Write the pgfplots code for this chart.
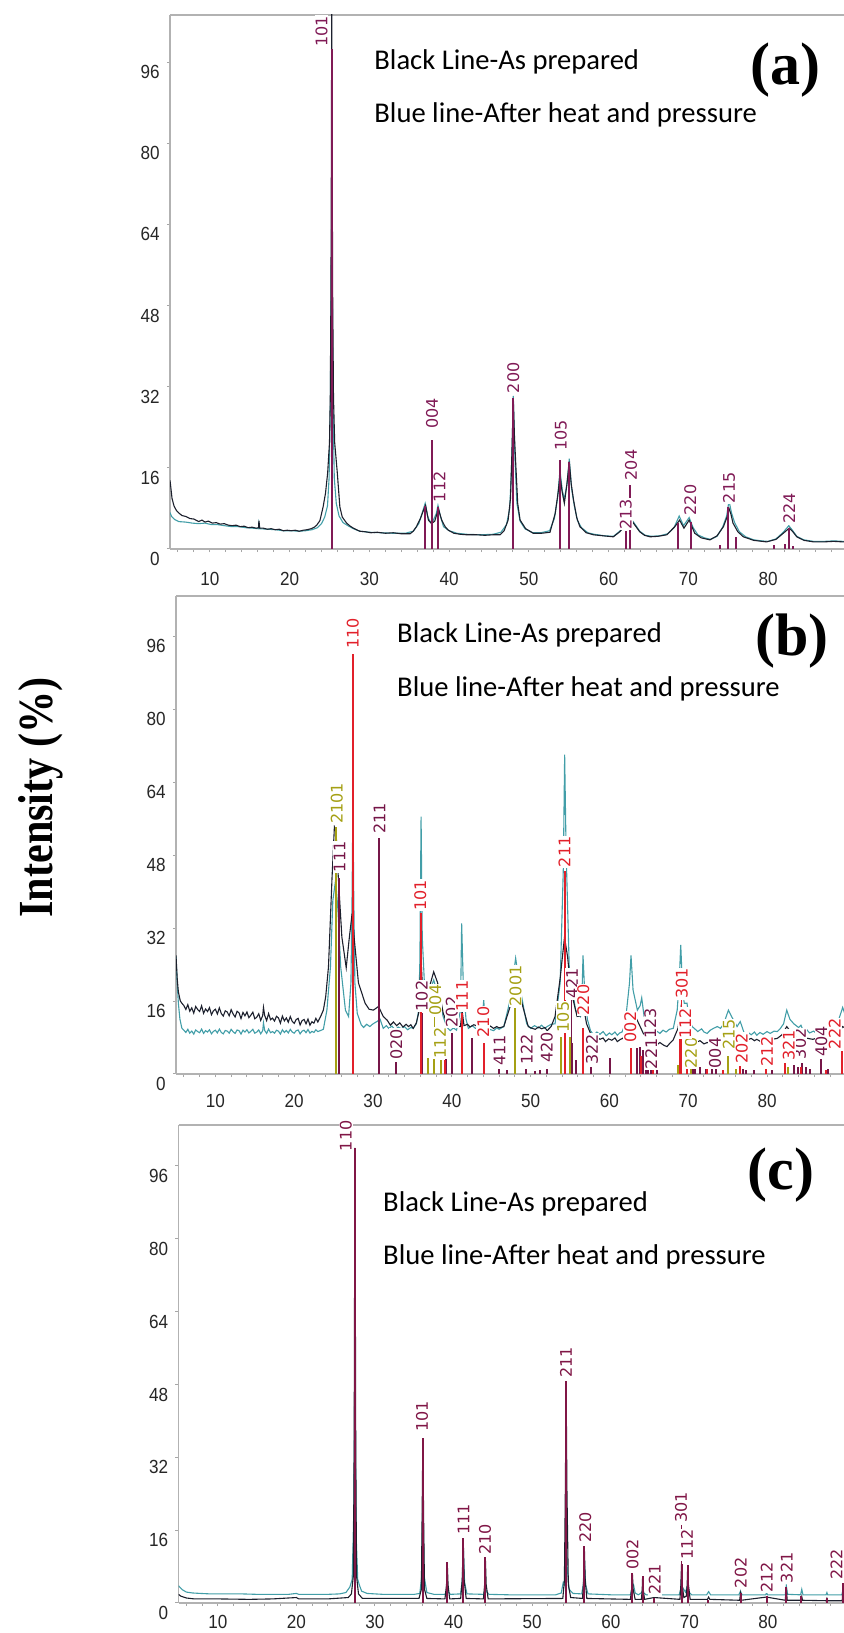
\documentclass[border=0pt]{standalone}
\usepackage{fontspec}
\usepackage{pgfplots}
\pgfplotsset{compat=1.18}
\newfontfamily\tickfont[FakeStretch=0.9]{Liberation Sans}
\newfontfamily\hklfont{DejaVu Sans}
\newfontfamily\calib{Carlito}
\newfontfamily\timesn[FakeStretch=0.86]{Liberation Serif}
\newfontfamily\timesw{Liberation Serif}

\definecolor{bluec}{RGB}{66,158,168}
\definecolor{blackc}{RGB}{28,32,45}
\definecolor{apurple}{RGB}{128,26,86}
\definecolor{bpurple}{RGB}{118,22,72}
\definecolor{bred}{RGB}{226,32,42}
\definecolor{bolive}{RGB}{165,160,20}
\definecolor{cpurple}{RGB}{128,22,70}

\pgfplotsset{
  panel/.style={scale only axis, anchor=north west,
    xmin=5, xmax=92, ymin=0,
    axis y line*=left,
    axis line style={draw=gray!60, line width=0.6pt},
    xtick={10,20,...,80}, minor xtick={6,8,...,90}, ytick={0,16,...,96},
    xtick pos=left, tick align=outside,
    major tick length=1.6pt, minor tick length=1.6pt,
    every tick/.style={gray!70, line width=0.5pt},
    ticklabel style={font=\tickfont\fontsize{9.5}{10}\selectfont, text=black!85},
    /pgf/number format/assume math mode=true,
    xticklabel style={yshift=-5pt},
    yticklabel style={yshift=-5pt},
  },
  curve/.style={#1, line width=0.55pt, mark=none},
  stick/.style={ycomb, draw=#1, line width=1pt, mark=none},
  leader/.style={ycomb, draw=#1, line width=0.5pt, mark=none},
  hkl/.style={draw=none, mark=none, nodes near coords, point meta=explicit symbolic,
    every node near coord/.style={rotate=90, anchor=west,
      font=\hklfont\fontsize{8}{9}\selectfont, inner sep=0.4pt, fill=white, text=#1}},
}

\begin{document}
\begin{tikzpicture}
\useasboundingbox (0,0) rectangle (421.5pt,816.5pt);

% ---------------- (a) ----------------
\begin{axis}[panel, at={(85pt,809pt)}, width=346.9pt, height=267pt, ymax=105.3,
  xticklabel style={yshift=-1.5pt}]
\addplot[curve=bluec] table {
x y
5.0 7.2
5.2 6.4
5.6 5.8
6.1 5.4
7.0 5.3
7.8 5.1
8.6 5.0
9.4 5.1
10.2 4.8
11.0 4.8
11.8 4.6
12.8 4.4
13.6 4.4
14.5 4.2
15.4 4.1
16.1 4.0
16.15 5.0
16.25 4.0
17.2 3.9
18.2 3.8
19.2 3.6
20.2 3.6
21.2 3.5
22.0 3.6
22.8 3.8
23.5 4.2
24.0 5.0
24.4 6.3
24.75 8.5
24.95 14
25.1 28
25.2 50
25.28 68
25.36 50
25.45 28
25.6 14
25.85 9
26.2 6.5
26.7 5.2
27.3 4.6
28.0 4.0
28.8 3.5
30.0 3.3
31.5 3.2
33.0 3.1
34.5 3.1
35.5 3.5
36.2 5.0
36.7 7.5
37.0 9.0
37.3 6.5
37.6 5.4
38.0 5.6
38.4 7.0
38.6 8.6
38.9 6.5
39.3 4.4
40.0 3.6
41.0 3.1
42.2 2.9
44.0 2.8
45.5 2.9
46.5 3.3
47.2 4.8
47.6 8
47.85 17
48.05 30.2
48.25 18
48.5 9
48.9 5.5
49.5 4.0
50.5 3.2
51.5 3.2
52.6 3.6
53.2 6.0
53.6 10
53.9 15.5
54.2 11.5
54.45 9.8
54.8 13
55.07 17.8
55.35 12
55.7 8.5
56.1 5.6
56.6 4.2
57.4 3.2
58.2 2.9
59.5 2.6
60.6 2.5
61.4 3.5
62.1 4.8
62.7 6.2
63.3 4.9
63.9 3.5
64.6 2.7
65.4 2.5
66.4 2.6
67.4 3.0
68.2 4.2
68.85 6.5
69.4 4.6
70.1 6.2
70.6 4.2
71.2 2.8
72.0 2.2
72.8 1.9
73.6 2.5
74.3 4.3
74.8 6.5
75.1 9.5
75.4 7.2
75.8 5.2
76.4 3.4
77.2 2.4
78.2 1.8
79.2 1.6
80.0 1.5
81.0 2.0
81.9 3.3
82.6 4.6
83.0 3.8
83.6 2.5
84.5 1.8
85.7 1.5
87.0 1.5
88.3 1.6
89.4 1.5
90.5 1.5
};
\addplot[curve=blackc] table {
x y
5.0 13.5
5.1 12.2
5.25 10.0
5.5 8.5
5.8 7.6
6.1 7.1
6.5 6.6
7.0 6.4
7.5 6.0
8.0 5.9
8.6 5.4
9.0 5.7
9.4 5.3
9.8 5.5
10.3 5.1
10.8 5.2
11.3 4.9
11.8 5.0
12.3 4.7
12.8 4.6
13.3 4.7
13.8 4.4
14.3 4.5
14.8 4.2
15.3 4.3
15.8 4.1
16.1 4.2
16.15 5.6
16.25 4.1
16.7 4.1
17.2 3.9
17.7 4.0
18.2 3.8
18.7 3.9
19.2 3.6
19.7 3.7
20.2 3.6
20.7 3.7
21.2 3.5
21.7 3.7
22.2 3.8
22.7 4.0
23.1 4.3
23.4 4.7
23.8 5.6
24.2 8.3
24.5 11.0
24.77 15
25.0 21
25.1 30
25.18 50
25.24 80
25.28 108
25.33 80
25.4 50
25.5 30
25.65 21
25.98 15
26.3 8.3
26.6 6.3
27.15 5.1
27.6 4.5
28.0 4.1
28.8 3.5
29.5 3.4
30.2 3.2
31.0 3.3
32.0 3.1
33.0 3.2
34.0 3.0
35.1 3.0
35.5 3.5
35.9 4.4
36.4 6.0
36.8 7.7
37.05 8.6
37.4 5.7
37.8 5.0
38.2 5.5
38.45 6.8
38.65 8.0
38.9 6.6
39.07 5.7
39.5 4.4
39.9 3.7
40.6 3.1
41.4 2.9
42.2 2.8
43.5 2.8
44.5 2.7
45.5 2.8
46.4 2.8
46.9 3.6
47.4 5.7
47.7 10
47.85 17.6
48.05 29.4
48.2 22
48.35 17
48.6 9
48.9 5.7
49.6 4.0
50.55 3.1
51.6 3.1
52.65 3.3
53.3 7.0
53.7 11.5
53.9 14.6
54.15 11.5
54.45 9.0
54.75 12.5
55.07 17.2
55.3 13
55.6 9.7
56.0 6.2
56.4 4.4
57.2 3.2
58.1 2.8
59.3 2.6
60.6 2.4
61.4 3.4
62.1 4.6
62.7 6.0
63.3 4.7
63.9 3.4
64.5 2.7
65.2 2.4
66.2 2.5
67.3 2.8
68.3 4.4
68.9 5.7
69.45 4.1
70.1 5.7
70.8 3.1
71.6 2.2
72.7 1.8
73.6 2.6
74.4 4.4
74.9 6.5
75.1 8.0
75.35 6.8
75.6 5.1
76.2 3.4
76.9 2.4
78.2 1.7
79.8 1.4
81.0 1.9
81.9 3.1
82.65 4.1
83.1 3.4
83.6 2.4
84.5 1.7
85.7 1.4
87.0 1.4
88.2 1.5
89.4 1.4
90.5 1.4
};
\addplot[stick=apurple] table {
x y
25.28 98.5
36.95 8.5
37.80 21.5
38.58 8.3
48.05 29.7
53.89 17.6
55.06 17.2
62.12 3.5
62.69 12.6
68.76 5.1
70.31 5.4
74.03 0.8
75.03 8.3
76.02 2.4
80.73 0.7
82.14 1.0
82.66 4.1
83.15 0.5
};
\addplot[hkl=apurple] table[meta=lab] {
x y lab
24.0 98.8 101
37.85 23.5 004
38.8 9.0 112
48.05 30.5 200
54.0 19.2 105
62.15 3.6 213
62.8 13.3 204
70.25 6.4 220
75.1 8.8 215
82.65 4.7 224
};
\end{axis}

% ---------------- (b) ----------------
\begin{axis}[panel, at={(88pt,518.5pt)}, width=342.8pt, height=239pt, ymax=104.8]
\addplot[curve=bluec] table {
x y
5.0 25.7
5.15 20
5.3 15.5
5.5 12
5.75 10.0
6.00 9.6
6.25 9.1
6.50 9.8
6.75 8.95
7.00 9.4
7.25 8.75
7.50 9.65
7.75 9.3
8.00 9.05
8.25 9.85
8.50 8.9
8.75 9.5
9.00 9.2
9.25 9.7
9.50 8.8
9.75 9.35
10.00 9.6
10.25 9.0
10.50 9.85
10.75 9.1
11.00 8.8
11.25 9.55
11.50 9.4
11.75 8.95
12.00 9.8
12.25 9.25
12.50 8.9
12.75 9.65
13.00 9.5
13.25 8.75
13.50 9.6
13.75 9.2
14.00 9.7
14.25 9.0
14.50 9.35
14.75 9.8
15.00 8.95
15.25 9.2
15.50 9.65
15.75 8.8
16.00 9.5
16.1 11.2
16.25 9.55
16.50 8.9
16.75 9.85
17.00 9.05
17.25 9.3
17.50 8.95
17.75 9.6
18.00 9.4
18.25 8.75
18.50 9.7
18.75 9.1
19.00 9.55
19.25 9.0
19.50 9.8
19.75 9.2
20.00 8.95
20.25 9.5
20.50 9.65
20.75 8.8
21.00 9.4
21.25 9.6
21.50 9.05
21.75 9.75
22.00 8.95
22.25 9.35
22.50 9.1
22.75 9.7
23.00 9.3
23.3 9.5
23.7 9.8
24.15 14
24.6 23.5
24.9 38
25.25 42.5
25.55 36
25.9 23.5
26.5 14
26.9 12.6
27.2 20
27.35 40
27.45 60
27.55 40
27.7 20
28.0 13.3
28.5 10.8
28.8 10.2
29.2 10.9
29.6 10.4
30.0 11.0
30.5 11.5
30.9 12.0
31.3 10.0
31.7 10.6
32.0 10.0
32.4 10.5
32.8 9.7
33.2 10.3
33.6 9.9
34.0 10.4
34.4 9.7
34.8 10.2
35.1 10.0
35.5 11.0
35.8 14
35.95 25
36.1 56.4
36.25 30
36.6 17
37.25 18.4
37.7 20.6
38.2 17.7
38.9 12.6
39.4 10.2
39.8 9.5
40.2 10.1
40.6 9.6
41.1 14
41.25 33
41.45 20
41.8 12
42.1 10
42.6 10.6
43.0 10.0
43.6 10.4
43.9 13
44.05 16.2
44.25 11
44.8 9.8
45.3 9.5
45.7 10.1
46.0 9.8
46.6 10.4
47.4 16.2
48.1 25.4
48.7 18.4
49.5 11
50.0 10.0
50.5 10.6
51.0 10.1
51.4 10.7
51.8 10.0
52.1 10.4
52.6 10.9
53.1 11
53.75 20
54.15 45
54.32 70
54.5 49
54.9 23.5
55.7 14
56.3 12.6
56.5 16
56.65 26
56.85 18.4
57.2 12
57.6 9.5
58.0 8.5
58.4 9.2
58.8 8.7
59.2 9.3
59.6 8.4
60.0 9.0
60.3 8.6
60.7 9.2
61.0 8.5
61.3 9.0
61.6 9.2
62.0 11
62.55 20
62.74 26
63.0 18.4
63.55 14
63.9 15
64.1 16.7
64.4 12.6
65.0 11.5
65.6 10.4
66.0 9.4
66.4 8.9
66.8 9.6
67.2 9.2
67.6 9.8
68.1 10
68.6 14
68.85 20
69.05 28.3
69.3 18
69.5 15.5
69.85 15.5
70.1 12
70.5 10.4
70.9 9.8
71.2 9.3
71.7 9.9
72.0 9.2
72.4 8.9
72.8 9.6
73.2 10
73.7 10.4
74.1 10.0
74.5 11
75.1 14
75.5 12.6
76.2 10.4
76.6 11.5
77.2 8.5
77.6 9.1
78.0 8.6
78.4 9.2
78.7 8.5
79.1 9.1
79.5 8.7
80.0 9.3
80.4 8.9
80.9 9.4
81.3 9.3
81.7 10.0
82.1 11
82.5 14
82.9 12
83.4 11
84.0 10.2
84.3 10.7
84.6 9.5
85.0 9.8
85.4 9.0
85.9 9.4
86.3 8.9
86.8 9.3
87.3 9.5
87.8 9.2
88.3 10
88.9 11
89.3 13
89.6 14.6
90.0 12.5
90.5 11
};
\addplot[curve=blackc] table {
x y
5.0 26
5.15 21
5.3 18
5.55 16
5.75 15.5
6.00 15.0
6.25 14.15
6.50 15.2
6.75 13.75
7.00 14.5
7.25 13.35
7.50 14.8
7.75 14.15
8.00 13.7
8.25 14.95
8.50 13.3
8.75 14.25
9.00 13.7
9.25 14.55
9.50 13.0
9.75 13.85
10.00 14.2
10.25 13.15
10.50 14.5
10.75 13.25
11.00 12.7
11.25 13.85
11.50 13.6
11.75 12.75
12.00 14.1
12.25 13.15
12.50 12.5
12.75 13.75
13.00 13.4
13.25 12.15
13.50 13.5
13.75 12.75
14.00 13.6
14.25 12.35
14.50 12.9
14.75 13.55
15.00 12.1
15.25 12.45
15.50 13.2
15.75 11.75
16.00 12.8
16.1 14.6
16.25 12.85
16.50 11.7
16.75 13.25
17.00 11.9
17.25 12.25
17.50 11.6
17.75 12.65
18.00 12.3
18.25 11.15
18.50 12.7
18.75 11.65
19.00 12.3
19.25 11.35
19.50 12.6
19.75 11.55
20.00 11.1
20.25 11.95
20.50 12.2
20.75 10.75
21.00 11.7
21.25 11.95
21.50 11.0
21.75 12.05
22.00 10.7
22.25 11.45
22.50 11.15
22.75 12.2
23.00 11.4
23.4 12.8
23.7 14
24.0 17
24.35 23.5
24.8 43
25.1 54.2
25.3 53.5
25.6 43
26.05 30
26.6 23.3
27.0 30
27.35 35.2
27.6 30
28.15 20
29.0 15.5
29.5 14.2
30.05 14
30.7 14.8
31.3 12.6
31.8 11.8
32.2 10.7
32.6 11.4
33.0 10.6
33.4 11.2
33.8 10.3
34.2 10.9
34.5 10.4
34.8 10.8
35.1 10.0
35.5 11.2
35.8 13.4
36.1 25
36.4 14.8
37.05 18.4
37.7 22.4
38.2 20
38.9 13.4
39.4 11.0
39.8 10.4
40.2 10.9
40.6 10.5
41.1 10.4
41.3 14
41.55 10.6
42.0 10.9
42.3 10.3
42.8 10.8
43.2 10.5
43.6 11.0
44.0 12
44.4 10
44.9 10.5
45.3 10.0
45.7 10.4
46.0 10.1
46.6 10.4
47.4 14.8
48.1 20.6
48.9 15.5
49.7 10.4
50.2 10.0
50.6 9.8
51.0 10.3
51.4 9.9
51.8 10.2
52.1 9.5
52.6 10.4
53.1 12.6
53.75 21
54.3 30
54.7 25.6
55.1 18.4
55.9 12.6
56.4 12.8
56.7 14.8
57.1 11
57.6 8.9
58.0 7.5
58.4 8.1
58.8 7.6
59.2 7.9
59.5 7.1
59.9 7.7
60.3 7.4
60.7 7.9
61.0 7.1
61.4 7.6
61.7 7.8
62.2 9.5
62.75 13.4
63.3 12.6
63.9 10.4
64.3 8.9
65.1 7.5
65.7 7.0
66.1 6.5
66.4 6.9
66.9 6.3
67.3 6.0
67.7 6.8
68.1 7.5
68.7 10
69.1 14.8
69.6 11
70.2 8.3
70.7 7.5
71.1 7.0
71.5 7.3
72.0 6.6
72.4 6.9
72.9 6.6
73.5 7.2
74.0 7.5
74.5 8
75.1 9.5
75.8 8.5
76.6 8.9
77.1 7.9
77.5 7.5
78.0 7.8
78.4 7.3
78.7 7.6
79.2 7.1
79.6 7.5
80.0 7.2
80.6 7.6
81.3 7.8
81.9 8.6
82.5 10.4
83.3 8.6
83.8 8.1
84.2 8.5
84.6 8.0
85.2 7.8
85.8 7.6
86.4 7.9
87.0 7.4
87.6 7.6
88.2 7.9
88.8 8.4
89.6 10.4
90.5 9.5
};
% third phase (purple)
\addplot[stick=bpurple] table {
x y
25.72 43
30.80 51.7
32.95 2.7
36.2 13.3
39.2 8.5
40.0 9
42.5 7.8
46.0 1.0
47.0 0.8
49.4 1.0
50.6 0.6
51.2 0.8
52.1 1.0
55.2 6.7
55.8 3.1
57.6 1.6
60.1 3.5
63.45 5.6
63.9 6.0
64.3 5.3
64.6 3.3
64.9 4.0
65.3 2.5
66.0 1.5
70.55 3.0
70.9 2.0
71.5 1.5
72.2 1.2
73.0 1.6
73.5 1.0
76.9 1.0
77.3 0.8
78.4 0.8
80.6 0.8
83.4 2.0
83.9 1.5
84.5 2.5
85.0 1.5
85.5 1.0
86.9 3.3
87.8 1.0
};
\addplot[leader=bpurple] table {
x y
55.25 16.2
};
\addplot[hkl=bpurple] table[meta=lab] {
x y lab
25.75 44 111
30.8 52.4 211
32.95 2.9 020
36.2 13.5 102
40.0 10.0 202
46.05 1.6 411
49.5 1.8 122
52.05 2.2 420
55.25 16.2 421
57.8 1.8 322
65.2 7.5 123
65.3 0.8 221
73.4 1.0 004
84.2 3.0 302
86.9 3.5 404
};
% anatase (olive)
\addplot[stick=bolive] table {
x y
25.28 54.2
36.95 3.5
37.80 10
38.58 3
48.05 14.4
53.89 8.2
55.06 8.2
62.69 5.6
68.76 2
70.31 7.5
75.03 4
76.02 1
82.66 1.5
};
\addplot[leader=bolive] table {
x y
37.85 12.6
};
\addplot[hkl=bolive] table[meta=lab] {
x y lab
25.4 54.6 2101
37.9 12.6 004
38.5 3.2 112
48.1 14.6 2001
54.1 8.9 105
70.35 1.0 220
75.15 5.0 215
};
% rutile (red)
\addplot[stick=bred] table {
x y
27.45 92
36.09 35.2
39.19 3
41.23 13.3
44.05 6.7
54.32 44.4
56.64 10
62.74 5.6
64.04 4
65.48 1
69.01 9
69.79 7
72.41 1
74.41 0.8
76.51 1.8
79.82 1.2
82.33 2.5
84.26 1.5
87.46 0.8
89.55 5
};
\addplot[leader=bred] table {
x y
69.1 16.2
};
\addplot[hkl=bred] table[meta=lab] {
x y lab
27.45 93 110
36.0 35.6 101
41.3 13.5 111
44.0 7.8 210
54.3 45.1 211
56.7 12.6 220
62.65 6.7 002
69.2 16.2 301
69.6 7.5 112
76.8 2.0 202
80.0 1.4 212
82.75 2.7 321
88.6 5.2 222
};
\end{axis}

% ---------------- (c) ----------------
\begin{axis}[panel, at={(89.25pt,254pt)}, width=341.9pt, height=239pt, ymax=105,
  xticklabel style={yshift=4pt}]
\addplot[curve=bluec] table {
x y
5.0 3.8
5.2 3.4
5.5 2.9
6.0 2.4
6.8 2.2
7.8 2.1
9.0 2.0
11.0 2.0
13.0 2.0
15.0 1.9
17.0 1.9
19.0 1.9
20.0 2.1
20.3 1.9
22.0 1.9
24.0 1.9
25.5 2.0
26.3 2.3
26.8 3.5
27.1 5.2
27.3 20
27.45 55
27.6 15
27.8 5.2
28.0 4.0
28.3 2.6
29.0 2.1
31.0 1.9
33.0 1.9
35.0 1.9
35.7 2.1
35.95 6
36.09 25
36.25 6
36.6 2.3
37.5 1.9
38.9 1.9
39.1 2.5
39.2 3.2
39.3 2.5
39.6 1.9
40.9 2.0
41.1 5
41.25 11.7
41.4 4.5
41.7 2.0
43.8 1.9
43.95 2.6
44.05 3.5
44.15 2.6
44.5 1.9
47.0 1.8
50.0 1.8
53.0 1.8
53.7 2.2
53.95 4.5
54.1 4
54.22 10
54.32 18.3
54.45 8
54.7 3.0
55.2 2.1
56.3 2.0
56.5 4
56.64 9.6
56.8 4
57.1 2.0
60.0 1.8
62.5 1.8
62.65 3
62.75 4.4
62.9 4.0
63.1 2.2
63.5 1.8
63.95 2.3
64.05 3.0
64.15 2.3
64.5 1.8
66.0 1.8
68.7 1.8
68.9 3
69.0 5.9
69.1 3.5
69.5 2.4
69.79 4.0
69.95 2.4
70.3 1.8
72.2 1.8
72.45 2.5
72.7 1.8
76.3 1.8
76.5 2.6
76.7 1.8
79.7 1.8
79.82 2.2
79.95 1.8
82.2 1.8
82.33 3.8
82.5 1.9
84.15 1.8
84.3 3.0
84.45 1.8
87.4 1.8
87.5 2.3
87.6 1.8
89.4 1.8
89.55 3.0
89.7 1.8
90.5 1.8
};
\addplot[curve=blackc] table {
x y
5.0 1.9
5.3 1.5
6.0 1.1
7.0 0.9
10.0 0.9
14.0 0.8
17.0 0.9
20.0 1.2
20.3 0.9
24.0 0.9
26.6 1.2
27.0 2.0
27.25 6
27.35 35
27.45 100
27.55 35
27.65 6
27.9 2.0
28.4 1.0
35.6 1.0
35.9 3
36.0 20
36.09 36
36.18 20
36.3 3
36.6 1.0
38.9 0.9
39.1 4
39.2 8.5
39.3 4
39.5 0.9
40.9 1.0
41.1 5
41.23 14
41.35 5
41.6 1.0
43.8 0.9
43.95 4
44.05 9.5
44.15 4
44.4 0.9
53.9 1.0
54.1 5
54.22 25
54.32 48
54.42 25
54.6 4
54.9 1.2
56.4 1.0
56.55 5
56.64 12
56.75 5
56.95 1.0
62.5 0.8
62.65 3
62.75 6.5
62.85 3
63.1 0.8
63.9 0.8
64.0 3
64.05 5.8
64.12 3
64.3 0.8
65.5 1.2
68.8 0.8
68.92 4
69.0 8.5
69.08 4
69.3 1.2
69.6 1.5
69.72 4
69.79 8.2
69.88 4
70.1 0.8
72.3 0.8
72.45 1.3
72.6 0.8
76.4 0.6
76.5 2.0
76.6 0.6
79.8 1.3
82.2 0.6
82.33 3.4
82.45 0.6
84.2 0.6
84.3 1.4
84.4 0.6
87.4 0.5
87.5 1.0
87.6 0.5
89.45 0.5
89.55 4.2
89.65 0.5
90.5 0.5
};
\addplot[stick=cpurple] table {
x y
27.45 100
36.09 36.2
39.19 9.0
41.23 14.3
44.05 10.0
54.32 48.7
56.64 12.5
62.75 6.6
64.05 5.9
65.48 1.0
69.01 8.5
69.79 8.3
72.41 0.6
76.51 2.3
79.82 1.6
82.33 3.6
84.26 1.5
87.46 1.0
89.55 4.5
};
\addplot[leader=cpurple] table {
x y
69.05 17.2
};
\addplot[hkl=cpurple] table[meta=lab] {
x y lab
26.3 99.0 110
36.0 37.3 101
41.26 14.8 111
44.0 10.4 210
54.3 49.3 211
56.75 13.0 220
62.76 7.0 002
65.6 1.5 221
69.7 9.2 112
68.95 17.4 301
76.55 3.0 202
79.85 2.0 212
82.4 4.1 321
88.7 4.9 222
};
\end{axis}

% ---------------- annotations ----------------
\begin{scope}[every node/.style={inner sep=0pt}]
\node[anchor=base west, font=\calib\fontsize{14.3}{16}\selectfont] at (187pt,781.7pt) {Black Line-As prepared};
\node[anchor=base west, font=\calib\fontsize{14.3}{16}\selectfont] at (187pt,755pt) {Blue line-After heat and pressure};
\node[anchor=base west, font=\timesw\bfseries\fontsize{30}{32}\selectfont] at (375pt,774.25pt) {(a)};

\node[anchor=base west, font=\calib\fontsize{14.3}{16}\selectfont] at (198.4pt,495.45pt) {Black Line-As prepared};
\node[anchor=base west, font=\calib\fontsize{14.3}{16}\selectfont] at (198.4pt,468.3pt) {Blue line-After heat and pressure};
\node[anchor=base west, font=\timesw\bfseries\fontsize{30}{32}\selectfont] at (377.5pt,488.9pt) {(b)};

\node[anchor=base west, font=\calib\fontsize{14.3}{16}\selectfont] at (191.4pt,210.65pt) {Black Line-As prepared};
\node[anchor=base west, font=\calib\fontsize{14.3}{16}\selectfont] at (191.4pt,184pt) {Blue line-After heat and pressure};
\node[anchor=base west, font=\timesw\bfseries\fontsize{30}{32}\selectfont] at (373.5pt,221.5pt) {(c)};

\node[rotate=90, anchor=base, font=\timesn\bfseries\fontsize{24.5}{26}\selectfont] at (26pt,417.75pt) {Intensity (\%)};
\end{scope}
\end{tikzpicture}
\end{document}
